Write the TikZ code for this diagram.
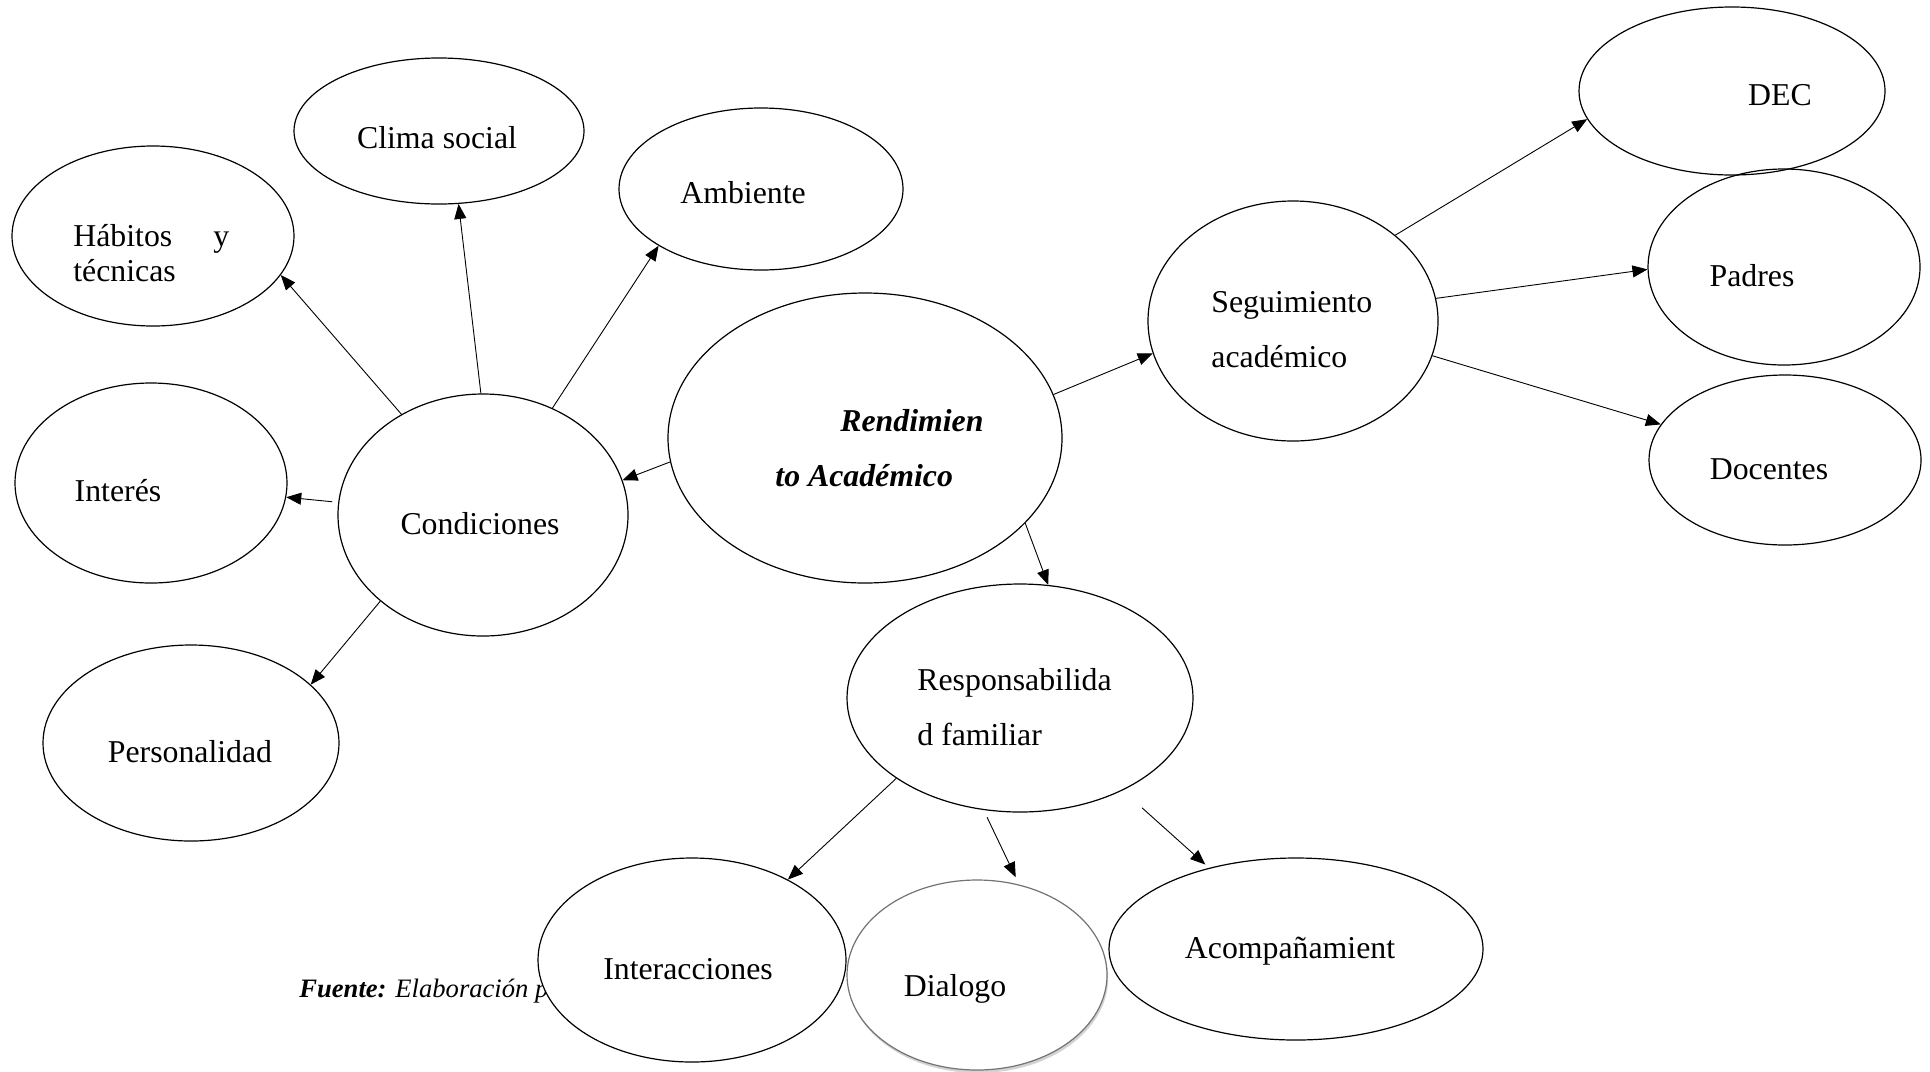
\documentclass[tikz,border=0pt]{standalone}
\usepackage{fontspec}
\setmainfont{Liberation Serif}
\usetikzlibrary{shapes.geometric,arrows.meta,shadows}

\begin{document}
\begin{tikzpicture}[x=0.5pt,y=-0.5pt,
  bubble/.style={ellipse, draw, line width=0.6pt, inner sep=0pt},
  txt/.style={inner sep=0pt, font=\fontsize{15.9}{27.5}\selectfont, align=left},
  link/.style={-{Triangle[length=7.5pt,width=6pt]}, line width=0.45pt}]
\useasboundingbox (0,0) rectangle (1930,1071);

\node[inner sep=0pt, anchor=base west, font=\fontsize{13.3}{16}\selectfont\itshape] (fuente) at (299,997) {\textbf{Fuente:} Elaboración p};

\node[bubble, minimum width=145pt, minimum height=73pt] (clima) at (439,131) {};
\node[bubble, minimum width=142pt, minimum height=81pt] (amb) at (761,189) {};
\node[bubble, minimum width=141pt, minimum height=90pt] (hab) at (153,236) {};
\node[bubble, minimum width=136pt, minimum height=100pt] (int) at (151,483) {};
\node[bubble, minimum width=145pt, minimum height=121pt] (cond) at (483,515) {};
\node[bubble, minimum width=148pt, minimum height=98pt] (pers) at (191,743) {};
\node[bubble, minimum width=197pt, minimum height=145pt] (rend) at (865,438) {};
\node[bubble, minimum width=145pt, minimum height=120pt] (seg) at (1293,321) {};
\node[bubble, minimum width=153pt, minimum height=84pt] (dec) at (1732,91) {};
\node[bubble, minimum width=136pt, minimum height=98pt] (padres) at (1784,267) {};
\node[bubble, minimum width=136pt, minimum height=85pt] (doc) at (1785,460) {};
\node[bubble, minimum width=173pt, minimum height=114pt] (resp) at (1020,698) {};
\node[bubble, fill=white, minimum width=154pt, minimum height=102pt] (inter) at (692,960) {};
\node[bubble, fill=white, draw=black!55, drop shadow={opacity=0.35, shadow xshift=0.6pt, shadow yshift=-1.5pt}, minimum width=130pt, minimum height=95pt] (dial) at (977,975) {};
\node[bubble, minimum width=187pt, minimum height=91pt] (acomp) at (1296,949) {};

\node[txt] (clima-t) at (437,138) {Clima social};
\node[txt] (amb-t) at (743,193) {Ambiente};
\node[txt, anchor=west, font=\fontsize{15.9}{17.5}\selectfont] (hab-t) at (73,253) {Hábitos\hspace{20.5pt}y\\técnicas};
\node[txt] (int-t) at (118,491) {Interés};
\node[txt] (cond-t) at (480,524) {Condiciones};
\node[txt] (pers-t) at (190,752) {Personalidad};
\node[txt, anchor=west, font=\fontsize{15.9}{27.5}\selectfont\bfseries\itshape] (rend-t) at (775,448) {\hspace*{32.5pt}Rendimien\\to Académico};
\node[txt, anchor=west] (seg-t) at (1211,330) {Seguimiento\\académico};
\node[txt] (dec-t) at (1780,95) {DEC};
\node[txt] (padres-t) at (1752,276) {Padres};
\node[txt] (doc-t) at (1769,469) {Docentes};
\node[txt, anchor=west] (resp-t) at (917,707) {Responsabilida\\d familiar};
\node[txt] (inter-t) at (688,969) {Interacciones};
\node[txt] (dial-t) at (955,989) {Dialogo};
\node[txt] (acomp-t) at (1290,951) {Acompañamient};

\draw[link] (cond.129) -- (hab.-17);
\draw[link] (cond.91) -- (clima.-75);
\draw[link] (cond.57) -- (amb.-151);
\draw[link, shorten <=3pt] (cond.175) -- (int.-6);
\draw[link] (cond.-140) -- (pers.26);
\draw[link] (rend.-173) -- (cond.14);
\draw[link] (rend.13) -- (seg.-167);
\draw[link] (rend.-28) -- (resp.76);
\draw[link] (seg.40) -- (dec.-169);
\draw[link] (seg.9.5) -- (padres.181);
\draw[link] (seg.-14.5) -- (doc.164);
\draw[link] (resp.-147) -- (inter.40);
\draw[link, shorten <=4pt, shorten >=4pt] (resp.-108) -- (dial.65);
\draw[link, shorten <=13pt, shorten >=2.5pt] (resp.-42) -- (acomp.137);
\end{tikzpicture}
\end{document}
